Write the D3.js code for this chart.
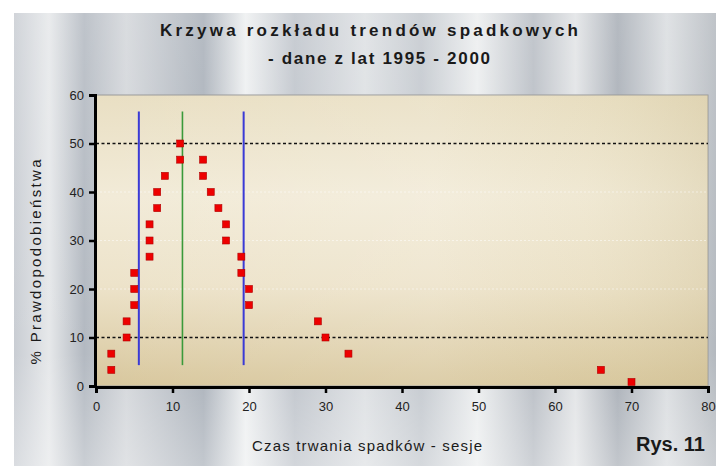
<!DOCTYPE html>
<html><head><meta charset="utf-8">
<script src="https://cdn.jsdelivr.net/npm/d3@7"></script>
<style>html,body{margin:0;padding:0;background:#fff;}svg{display:block;}</style>
</head><body>
<svg id="c" width="716" height="466"></svg>
<script>
// ---- data ----
const sessions = [2, 2, 4, 4, 5, 5, 5, 7, 7, 7, 8, 8, 9, 11, 11, 14, 14, 15, 16, 17, 17, 19, 19, 20, 20, 29, 30, 33, 66, 70];
const probability = [3.33, 6.67, 10, 13.33, 16.67, 20, 23.33, 26.67, 30, 33.33, 36.67, 40, 43.33, 46.67, 50, 46.67, 43.33, 40, 36.67, 33.33, 30, 26.67, 23.33, 20, 16.67, 13.33, 10, 6.67, 3.33, 0.83];
const boundLines = [5.6, 19.3];      // blue vertical lines
const centerLines = [11.3];          // green vertical line
const vLineRange = [4.3, 56.6];
const refLines = [10, 50];           // dashed horizontal lines
const faintLines = [20, 30, 40];
const xTicks = [0, 10, 20, 30, 40, 50, 60, 70, 80];
const yTicks = [0, 10, 20, 30, 40, 50, 60];
const titleLines = ["Krzywa rozkładu trendów spadkowych", "- dane z lat 1995 - 2000"];
const xTitle = "Czas trwania spadków - sesje";
const yTitle = "% Prawdopodobieństwa";
const figLabel = "Rys. 11";

const svg = d3.select("#c");
const W = 716, H = 466;
const x = d3.scaleLinear().domain([0, 80]).range([96, 708]);
const y = d3.scaleLinear().domain([0, 60]).range([386, 95]);

const defs = svg.append("defs");
// metallic background
const bg = defs.append("linearGradient").attr("id", "metal").attr("x1", "0").attr("x2", "1").attr("y1", "0").attr("y2", "0");
[[0, "#c9cdd3"], [0.05, "#e6e8ea"], [0.1, "#b3b9c1"], [0.16, "#d3d6da"], [0.27, "#a9b0b9"], [0.33, "#eef0f1"], [0.4, "#bfc4cb"],
 [0.5, "#dde0e3"], [0.58, "#c3c8ce"], [0.66, "#eceeef"], [0.74, "#b8bdc4"], [0.8, "#e2e4e6"], [0.86, "#a8aeb6"], [0.93, "#dadde0"], [1, "#b4b9bf"]]
  .forEach(([o, c]) => bg.append("stop").attr("offset", o).attr("stop-color", c));
const bgv = defs.append("linearGradient").attr("id", "metalv").attr("x1", "0").attr("x2", "0").attr("y1", "0").attr("y2", "1");
[[0, "rgba(255,255,255,0.15)"], [0.75, "rgba(255,255,255,0.0)"], [1, "rgba(255,255,255,0.3)"]]
  .forEach(([o, c]) => bgv.append("stop").attr("offset", o).attr("stop-color", c));
// plot area fill
const pg = defs.append("linearGradient").attr("id", "plotbg").attr("x1", "0").attr("x2", "0").attr("y1", "0").attr("y2", "1");
[[0, "#e9dfc3"], [0.35, "#f2ebd8"], [0.65, "#ede3ca"], [1, "#d8c79d"]]
  .forEach(([o, c]) => pg.append("stop").attr("offset", o).attr("stop-color", c));
const ph = defs.append("linearGradient").attr("id", "plotbgh").attr("x1", "0").attr("x2", "1").attr("y1", "0").attr("y2", "0");
[[0, "rgba(255,255,255,0)"], [0.55, "rgba(255,255,255,0.12)"], [0.8, "rgba(220,210,170,0.1)"], [1, "rgba(200,185,140,0.3)"]]
  .forEach(([o, c]) => ph.append("stop").attr("offset", o).attr("stop-color", c));

svg.append("rect").attr("x", 14).attr("y", 13).attr("width", W - 14).attr("height", H - 13).attr("fill", "url(#metal)");
svg.append("rect").attr("x", 14).attr("y", 13).attr("width", W - 14).attr("height", H - 13).attr("fill", "url(#metalv)");

// plot area
const px0 = x(0), px1 = x(80), py0 = y(60), py1 = y(0);
svg.append("rect").attr("x", px0).attr("y", py0).attr("width", px1 - px0).attr("height", py1 - py0)
  .attr("fill", "url(#plotbg)").attr("stroke", "#9a9a9a").attr("stroke-width", 1);
svg.append("rect").attr("x", px0).attr("y", py0).attr("width", px1 - px0).attr("height", py1 - py0)
  .attr("fill", "url(#plotbgh)");

// faint grid lines
svg.append("g").selectAll("line").data(faintLines).join("line")
  .attr("x1", px0).attr("x2", px1).attr("y1", d => y(d)).attr("y2", d => y(d))
  .attr("stroke", "#ffffff").attr("stroke-opacity", 0.5).attr("stroke-dasharray", "2,2");

// dashed reference lines
svg.append("g").selectAll("line").data(refLines).join("line")
  .attr("x1", px0).attr("x2", px1).attr("y1", d => y(d)).attr("y2", d => y(d))
  .attr("stroke", "#111").attr("stroke-width", 1.6).attr("stroke-dasharray", "3,2.5");

// vertical lines
svg.append("g").selectAll("line").data(boundLines).join("line")
  .attr("x1", d => x(d)).attr("x2", d => x(d)).attr("y1", y(vLineRange[1])).attr("y2", y(vLineRange[0]))
  .attr("stroke", "#3a3ad6").attr("stroke-width", 2);
svg.append("g").selectAll("line").data(centerLines).join("line")
  .attr("x1", d => x(d)).attr("x2", d => x(d)).attr("y1", y(vLineRange[1])).attr("y2", y(vLineRange[0]))
  .attr("stroke", "#3a9a3a").attr("stroke-width", 1.6);

// points
const pts = sessions.map((s, i) => ({ s, p: probability[i] }));
const sz = 7;
svg.append("g").selectAll("rect").data(pts).join("rect")
  .attr("x", d => x(d.s) - sz / 2).attr("y", d => y(d.p) - sz / 2)
  .attr("width", sz).attr("height", sz)
  .attr("fill", "#ee0000").attr("stroke", "#b00000").attr("stroke-width", 0.6);

// axes
const ff = "Liberation Sans, Arial, sans-serif";
const xAxis = svg.append("g").attr("transform", `translate(0,${py1 + 1})`)
  .call(d3.axisBottom(x).tickValues(xTicks).tickSize(6).tickPadding(9).tickFormat(d3.format("d")));
const yAxis = svg.append("g").attr("transform", `translate(${px0 - 1},0)`)
  .call(d3.axisLeft(y).tickValues(yTicks).tickSize(6).tickPadding(5).tickFormat(d3.format("d")));
[xAxis, yAxis].forEach(g => {
  g.select(".domain").attr("stroke", "#000").attr("stroke-width", 3);
  g.selectAll(".tick line").attr("stroke", "#000").attr("stroke-width", 2.5);
  g.selectAll(".tick text").attr("fill", "#222").attr("font-family", ff).attr("font-size", 13);
});

// titles
svg.append("text").attr("x", 369).attr("y", 36).attr("text-anchor", "middle")
  .attr("font-family", ff).attr("font-size", 17).attr("font-weight", "bold").attr("fill", "#1a1a1a")
  .attr("textLength", 418).attr("lengthAdjust", "spacing").text(titleLines[0]);
svg.append("text").attr("x", 379).attr("y", 64).attr("text-anchor", "middle")
  .attr("font-family", ff).attr("font-size", 17).attr("font-weight", "bold").attr("fill", "#1a1a1a")
  .attr("textLength", 222).attr("lengthAdjust", "spacing").text(titleLines[1]);
svg.append("text").attr("x", 367).attr("y", 451).attr("text-anchor", "middle")
  .attr("font-family", ff).attr("font-size", 15).attr("fill", "#1a1a1a")
  .attr("textLength", 230).attr("lengthAdjust", "spacing").text(xTitle);
svg.append("text").attr("transform", "translate(41,262) rotate(-90)").attr("text-anchor", "middle")
  .attr("font-family", ff).attr("font-size", 15).attr("fill", "#1a1a1a")
  .attr("textLength", 205).attr("lengthAdjust", "spacing").text(yTitle);
svg.append("text").attr("x", 705).attr("y", 451).attr("text-anchor", "end")
  .attr("font-family", ff).attr("font-size", 20).attr("font-weight", "bold").attr("fill", "#1a1a1a")
  .text(figLabel);
</script>
</body></html>
